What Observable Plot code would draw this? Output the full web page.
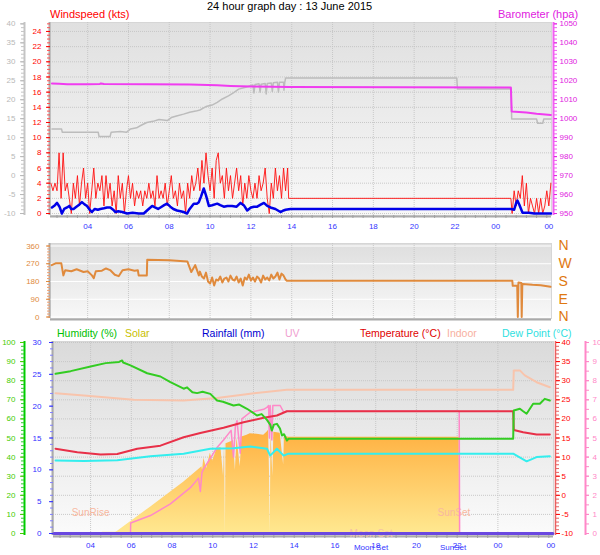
<!DOCTYPE html>
<html><head><meta charset="utf-8">
<script src="https://cdn.jsdelivr.net/npm/d3@7"></script>
<script src="https://cdn.jsdelivr.net/npm/@observablehq/plot@0.6"></script>
<style>
body{margin:0;background:#fff;font-family:"Liberation Sans",Arial,Helvetica,sans-serif;}
#wrap{position:relative;width:600px;height:555px;overflow:hidden;background:#fff;}
.lbl{position:absolute;white-space:nowrap;line-height:1;}
</style></head><body><div id="wrap"></div><script>
// ---------- shared x (hours since midnight 13 June; 24 = 00 on 14 June) ----------
const xDomain = [2.18, 26.73];
const xTickHours = [4,6,8,10,12,14,16,18,20,22,24,26.6];
const xTickLabels = ["04","06","08","10","12","14","16","18","20","22","00","00"];
const gridHours = [4,6,8,10,12,14,16,18,20,22,24];

// ---------- top panel: wind (kts), gray series (left grey axis), barometer (hpa) ----------
const windTicks = [0,2,4,6,8,10,12,14,16,18,20,22,24];
const grayTicks = [-10,-5,0,5,10,15,20,25,30,35,40];
const baroTicks = [950,960,970,980,990,1000,1010,1020,1030,1040,1050];

const gustStart = 2.2, gustStep = 0.1; // 6-minute samples
const windGust = [4,3,4,3,8,2,8,3,4,2,0,4,2,5,1,4,6,2,4,0,3,6,2,4,3,5,1,5,2,4,1,3,0,5,2,4,0,3,5,2,4,1,3,2,3,1,3,2,4,2,3,1,5,2,3,2,4,1,3,5,2,3,1,4,2,3,0,4,2,5,3,4,6,3,7,4,8,5,3,6,2,7,8,4,5,2,6,3,5,2,4,6,3,5,1,4,2,5,3,2,4,2,5,3,4,6,2,0,4,2,6,3,5,2,6,3,6];
const windGustFlat = [[13.85,2],[24.74,2]];
const gustEndStart = 24.8;
const windGustEnd = [0,3,1,3,2,5,1,4,0,2,1,0,2,0,2,0,1,3,1,4];

const windAvg = [[2.25,0.8],[2.4,1.1],[2.5,1.4],[2.62,0.9],[2.74,0],[2.85,0.6],[2.99,0.8],[3.1,1.0],[3.2,0.6],[3.31,0.6],[3.45,0.9],[3.6,1.2],[3.72,1.5],[3.85,1.2],[3.97,1.0],[4.1,0.5],[4.21,0.2],[4.35,0.6],[4.5,0.5],[4.62,0.6],[4.8,0.7],[4.95,0.8],[5.11,0.8],[5.25,0.5],[5.36,0.2],[5.5,0.3],[5.7,0.2],[5.93,0],[6.2,0.1],[6.5,0],[6.75,0],[6.95,0.5],[7.16,1.0],[7.3,0.8],[7.45,0.6],[7.57,0.8],[7.75,1.1],[7.89,1.3],[8.05,0.9],[8.2,0.6],[8.38,0.4],[8.55,0.3],[8.7,0.2],[8.87,0],[9.0,0.6],[9.2,1.3],[9.35,1.3],[9.45,1.5],[9.55,2.2],[9.69,3.3],[9.8,2.4],[9.94,1.0],[10.1,1.1],[10.35,1.3],[10.5,1.1],[10.67,0.9],[10.85,1.0],[11.08,1.0],[11.3,0.9],[11.49,1.4],[11.65,1.1],[11.82,0.4],[12.0,0.8],[12.15,0.9],[12.31,0.9],[12.5,1.2],[12.64,1.4],[12.8,1.0],[12.96,0.8],[13.2,0.6],[13.45,0.2],[13.6,0.4],[13.7,0.5],[13.94,0.6],[24.74,0.6],[24.9,0.5],[25.0,1.4],[25.06,1.7],[25.15,1.2],[25.31,0.1],[25.5,0.1],[25.63,0.1],[25.88,0],[26.7,0]];

const grayLine = [[2.25,12.3],[2.72,12.3],[2.76,11.4],[4.52,11.4],[4.56,10.3],[5.1,10.3],[5.15,11.4],[5.6,11.6],[5.9,11.4],[6.1,12.3],[6.4,12.6],[6.6,13.2],[6.9,14.0],[7.2,14.3],[7.5,14.8],[7.9,14.5],[8.1,15.3],[8.4,15.8],[8.7,16.2],[9.0,16.7],[9.3,17.0],[9.5,17.3],[9.8,18.2],[10.1,18.6],[10.35,19.3],[10.6,20.2],[10.9,21.0],[11.16,21.9],[11.4,22.8],[11.7,23.2],[11.98,23.7],[12.1,23.9],[12.15,21.8],[12.2,24.0],[12.4,24.2],[12.45,22.0],[12.5,24.1],[12.7,24.3],[12.75,21.5],[12.8,24.3],[13.0,24.4],[13.05,22.2],[13.1,24.5],[13.3,24.6],[13.35,22.0],[13.4,24.6],[13.6,24.6],[13.62,22.5],[13.66,24.6],[13.7,25.7],[22.09,25.7],[22.12,22.8],[24.74,22.8],[24.78,14.9],[26.0,14.9],[26.05,13.8],[26.3,13.8],[26.35,14.9],[26.7,14.9]];

const baro = [[2.25,1018.6],[2.6,1018.4],[3.0,1018.2],[4.0,1018.2],[4.6,1018.3],[4.65,1018.6],[4.8,1018.3],[7.0,1018.1],[9.0,1018.0],[10.35,1017.6],[11.0,1017.3],[12.0,1017.0],[13.9,1016.7],[24.74,1016.4],[24.78,1003.8],[25.5,1003.3],[26.0,1002.6],[26.7,1002.0]];

// ---------- middle panel: wind direction (deg) ----------
const dirTicks = [0,90,180,270,360];
const dirLetters = ["N","E","S","W","N"];
const windDirA = [[2.24,263],[2.43,272],[2.71,272],[2.81,211],[2.9,237],[3.2,232],[3.46,242],[3.8,228],[4.0,232],[4.21,211],[4.3,197],[4.4,232],[4.7,235],[4.9,246],[5.1,238],[5.33,214],[5.52,207],[5.71,237],[6.0,242],[6.3,235],[6.46,237],[6.5,211],[6.9,211],[6.92,290],[8.0,288],[8.89,281],[9.08,228],[9.27,263],[9.45,211]];
const dirNoiseStart = 9.5, dirNoiseStep = 0.1;
const windDirNoise = [230,205,195,225,180,170,200,160,190,185,205,175,195,200,180,210,190,185,205,175,195,160,200,190,215,185,200,180,205,195,175,210,190,200,185,215,195,205,225,190,220,210,190];
const windDirB = [[13.76,184],[24.81,184],[24.83,158],[25.05,158],[25.08,0],[25.11,175],[25.25,172],[25.27,0],[25.3,167],[25.8,163],[26.2,161],[26.68,153]];

// ---------- bottom panel ----------
const humTicks = [0,10,20,30,40,50,60,70,80,90,100];
const rainTicks = [0,5,10,15,20,25,30];
const tempTicks = [-10,-5,0,5,10,15,20,25,30,35,40];
const uvTicks = [0,1,2,3,4,5,6,7,8,9,10];

const humidity = [[2.28,83.6],[3.02,85],[4.0,87.4],[4.74,89.2],[5.4,89.8],[5.55,90.6],[5.6,89.5],[5.96,88],[6.78,83.9],[7.43,82.2],[7.92,79.2],[8.57,75.8],[8.74,76.5],[9.0,74],[9.23,73.5],[9.5,74.2],[9.88,73.1],[10.21,69.6],[10.5,69],[11.02,67],[11.3,67.5],[11.68,65.3],[12.17,61.8],[12.4,62.5],[12.66,59.5],[12.82,57],[12.9,53.9],[13.0,57],[13.15,57.4],[13.3,55],[13.4,51.3],[13.5,52],[13.64,48.7],[13.72,49.6],[24.75,49.6],[24.78,64.4],[25.08,65.3],[25.24,64],[25.41,62.7],[25.73,67.9],[26.06,67.9],[26.3,70.5],[26.55,69.6]];
const temperature = [[2.28,12.2],[3.35,11.3],[4.49,10.7],[5.31,10.8],[6.29,12.2],[7.43,13.0],[8.57,15.2],[9.39,16.3],[10.53,17.7],[11.51,19.1],[12.5,20.3],[13.15,20.9],[13.64,22.0],[24.75,22.0],[24.78,17.1],[25.24,16.5],[25.9,15.9],[26.55,15.9]];
const indoor = [[2.28,26.7],[3.67,26.1],[6.12,25.0],[8.57,24.8],[10.21,25.5],[11.84,26.6],[13.64,27.6],[24.75,27.6],[24.78,32.7],[25.08,32.7],[25.32,31.4],[25.9,29.6],[26.55,28.3]];
const dewPoint = [[2.28,9.1],[3.67,9.0],[5.31,9.2],[6.94,10.2],[8.57,10.9],[9.88,12.2],[11.02,12.3],[11.84,12.8],[12.66,12.2],[12.82,10.4],[13.15,12.2],[13.48,10.4],[13.72,10.9],[24.75,10.9],[25.41,8.9],[25.9,10],[26.55,10.2]];
const uv = [[2.2,0],[5.96,0],[5.97,0.55],[6.94,0.94],[7.92,1.55],[8.9,2.4],[9.3,2.9],[9.39,2.2],[9.47,3.2],[9.56,3.4],[10.21,4.5],[10.53,4.9],[10.9,5.4],[11.02,4.0],[11.11,5.6],[11.19,5.9],[11.35,4.2],[11.43,6.0],[11.84,6.35],[12.5,6.5],[12.66,6.6],[12.74,6.7],[12.78,5.0],[12.82,6.7],[12.9,4.9],[12.95,6.7],[13.31,6.7],[13.48,6.35],[13.64,6.4],[22.1,6.4],[22.12,0],[26.7,0]];
const solar = [[2.2,0],[4.57,0],[4.58,7],[5.23,7],[5.31,10],[6.94,138],[8.57,269],[9.47,349],[9.5,330],[9.56,395],[9.7,340],[9.88,420],[10.0,380],[10.21,445],[10.4,450],[10.53,300],[10.58,470],[10.62,0],[10.65,470],[10.9,480],[11.02,487],[11.11,330],[11.19,500],[11.35,350],[11.43,505],[11.68,515],[11.84,522],[12.17,520],[12.5,515],[12.66,530],[12.74,540],[12.79,300],[12.82,0],[12.86,520],[12.95,300],[13.0,530],[13.31,525],[13.48,360],[13.52,510],[13.72,504],[22.1,504],[22.12,0],[26.7,0]];
const rainfall = [[2.2,0],[26.7,0]];
const sunEvents = [{h:4.0, label:"SunRise"},{h:21.84, label:"SunSet"}];
const moonEvents = [{h:17.77, label:"Moon Set"}];
const axisEvents = [{h:17.77, label:"Moon Set"},{h:21.8, label:"SunSet"}];

// ---------- helpers ----------
const FONT = '"Liberation Sans", Arial, Helvetica, sans-serif';
const wrap = document.getElementById("wrap");
const xLabel = new Map(xTickHours.map((h,i)=>[h, xTickLabels[i]]));
const none = () => "";
function place(svg, top){ svg.style.position="absolute"; svg.style.left="0px"; svg.style.top=top+"px"; wrap.appendChild(svg); }
function addGrad(svg, id, c1, c2){
  const ns="http://www.w3.org/2000/svg";
  const defs=document.createElementNS(ns,"defs");
  defs.innerHTML=`<linearGradient id="${id}" x1="0" y1="0" x2="0" y2="1"><stop offset="0" stop-color="${c1}"/><stop offset="1" stop-color="${c2}"/></linearGradient>`;
  svg.insertBefore(defs, svg.firstChild);
}
function label(text,left,top,color,size){
  const d=document.createElement("div"); d.className="lbl"; d.textContent=text;
  d.style.left=left+"px"; d.style.top=top+"px"; d.style.color=color; d.style.fontSize=size+"px"; wrap.appendChild(d);
}
const pts = a => a.map(([h,v])=>({h,v}));
const gridStyle = {stroke:"#c4c4c4", strokeOpacity:0.9, strokeDasharray:"1,1"};
const style = {background:"transparent", fontFamily:FONT, fontSize:"8px", overflow:"visible"};
const ay = o => Plot.axisY({label:null, ...o});
const ax = o => Plot.axisX({label:null, ...o});

// ---------- top panel ----------
const grayToW = v => (v+10)/2;
const baroToW = p => (p-950)/4;
const gustSeries = windGust.map((v,i)=>({h: gustStart+i*gustStep, v}))
  .concat(pts(windGustFlat))
  .concat(windGustEnd.map((v,i)=>({h: gustEndStart+i*gustStep, v})));
const yTop = [-0.26, 25.18];
const topPlot = Plot.plot({
  width:600, height:240, marginTop:22, marginBottom:25, marginLeft:50, marginRight:49,
  x:{domain:xDomain, label:null}, y:{domain:yTop, label:null}, style,
  marks:[
    Plot.frame({fill:"url(#bgTop)", stroke:"#d6d6d6"}),
    Plot.gridY({ticks:windTicks, ...gridStyle}),
    Plot.gridX({ticks:gridHours, ...gridStyle}),
    Plot.ruleX([xDomain[0]], {stroke:"#aaaaaa", strokeWidth:2, dx:-1}),
    Plot.ruleY([yTop[0]], {stroke:"#aaaaaa", strokeWidth:2, dy:1}),
    Plot.line(pts(grayLine), {x:"h", y:d=>grayToW(d.v), stroke:"#bcbcbc", strokeWidth:1.5}),
    Plot.line(pts(baro), {x:"h", y:d=>baroToW(d.v), stroke:"#f03cf0", strokeWidth:2}),
    Plot.line(gustSeries, {x:"h", y:"v", stroke:"#ff1010", strokeWidth:1, strokeOpacity:0.9}),
    Plot.line(pts(windAvg), {x:"h", y:"v", stroke:"#0000e8", strokeWidth:2.5}),
    // wind axis (red)
    ay({ticks:d3.range(0,25.1,0.5), tickSize:3, tickFormat:none, color:"#ff5050"}),
    ay({ticks:windTicks, tickSize:4, tickPadding:5, tickFormat:t=>String(t), color:"#ff0000"}),
    // grey axis
    Plot.ruleX([xDomain[0]], {y1:yTop[0], y2:yTop[1], dx:-26, stroke:"#c4c4c4", strokeWidth:2}),
    ay({ticks:d3.range(-10,40.1,1).map(grayToW), tickSize:3, dx:-26, tickFormat:none, color:"#c4c4c4"}),
    ay({ticks:grayTicks.map(grayToW), tickSize:4, tickPadding:5, dx:-26, tickFormat:t=>String(Math.round(t*2-10)), color:"#b8b8b8"}),
    // barometer axis
    Plot.ruleX([xDomain[1]], {dx:2, stroke:"#f060f0", strokeWidth:2}),
    ay({anchor:"right", ticks:d3.range(950,1050.1,2).map(baroToW), tickSize:3, dx:2, tickFormat:none, color:"#f060f0"}),
    ay({anchor:"right", ticks:baroTicks.map(baroToW), tickSize:3, tickPadding:3, dx:2, tickFormat:t=>String(Math.round(t*4+950)), color:"#e020e0"}),
    // x axis
    ax({ticks:d3.range(2.5,26.6,0.5), tickSize:3, tickFormat:none, color:"#a0a0a0"}),
    ax({ticks:xTickHours, tickSize:0, tickPadding:8, tickFormat:d=>xLabel.get(d), color:"#3535ff"})
  ]
});
addGrad(topPlot, "bgTop", "#e0e0e0", "#f8f8f8");
place(topPlot, 0);

// ---------- middle panel ----------
const dirSeries = pts(windDirA)
  .concat(windDirNoise.map((v,i)=>({h: dirNoiseStart+i*dirNoiseStep, v})))
  .concat(pts(windDirB));
const yMid = [-7.6, 372.7];
const dirLetter = new Map(dirTicks.map((t,i)=>[t, dirLetters[i]]));
const midPlot = Plot.plot({
  width:600, height:86, marginTop:7, marginBottom:4, marginLeft:50, marginRight:49,
  x:{domain:xDomain, axis:null, label:null}, y:{domain:yMid, label:null}, style,
  marks:[
    Plot.frame({fill:"url(#bgMid)", stroke:"#d6d6d6"}),
    Plot.gridY({ticks:dirTicks, stroke:"#ffffff", strokeOpacity:1, strokeWidth:1.2}),
    Plot.gridX({ticks:gridHours, ...gridStyle}),
    Plot.ruleX([xDomain[0]], {stroke:"#aaaaaa", strokeWidth:2, dx:-1}),
    Plot.ruleY([yMid[0]], {stroke:"#aaaaaa", strokeWidth:2, dy:1}),
    Plot.line(dirSeries, {x:"h", y:"v", stroke:"#e08a3c", strokeWidth:2}),
    ay({ticks:d3.range(0,360.1,15), tickSize:3, tickFormat:none, color:"#f0a070"}),
    ay({ticks:dirTicks, tickSize:4, tickPadding:7, tickFormat:t=>String(t), color:"#e08a3c"}),
    ay({anchor:"right", ticks:dirTicks, tickSize:0, tickPadding:7, tickFormat:d=>dirLetter.get(d), color:"#e07810", fontSize:14})
  ]
});
addGrad(midPlot, "bgMid", "#dedede", "#f8f8f8");
place(midPlot, 236);

// ---------- bottom panel (primary y = temperature °C) ----------
const humToT = h => -10 + h/2;
const rainToT = r => -10 + r*50/30;
const uvToT = u => -10 + u*5;
const solarToT = s => -10 + s*50/1000;
const yBot = [-10.52, 40.26];
const botPlot = Plot.plot({
  width:600, height:219, marginTop:5, marginBottom:20, marginLeft:53, marginRight:47,
  x:{domain:xDomain, label:null}, y:{domain:yBot, label:null}, style,
  marks:[
    Plot.frame({fill:"url(#bgBot)", stroke:"#d6d6d6"}),
    Plot.gridY({ticks:tempTicks, ...gridStyle}),
    Plot.gridX({ticks:gridHours, ...gridStyle}),
    Plot.ruleX([xDomain[0]], {stroke:"#aaaaaa", strokeWidth:2, dx:-1}),
    Plot.ruleY([yBot[0]], {stroke:"#aaaaaa", strokeWidth:2, dy:1}),
    Plot.areaY(pts(solar), {x:"h", y1:-10, y2:d=>solarToT(d.v), fill:"url(#solarGrad)"}),
    Plot.text(sunEvents, {x:"h", y:-4.7, text:"label", fill:"#f8b8a0", fontSize:10}),
    Plot.text(moonEvents, {x:"h", y:-10, text:"label", fill:"#f4c0a8", fontSize:10}),
    Plot.line(pts(indoor), {x:"h", y:"v", stroke:"#f8c4ac", strokeWidth:2}),
    Plot.line(pts(uv), {x:"h", y:d=>uvToT(d.v), stroke:"#ff88c8", strokeWidth:1.5}),
    Plot.line(pts(dewPoint), {x:"h", y:"v", stroke:"#33eeee", strokeWidth:2}),
    Plot.line(pts(temperature), {x:"h", y:"v", stroke:"#e83048", strokeWidth:2}),
    Plot.line(pts(humidity), {x:"h", y:d=>humToT(d.v), stroke:"#33cc22", strokeWidth:2}),
    Plot.line(pts(rainfall), {x:"h", y:d=>rainToT(d.v), stroke:"#6a48e0", strokeWidth:3}),
    // humidity axis (green)
    Plot.ruleX([xDomain[0]], {y1:yBot[0], y2:yBot[1], dx:-29, stroke:"#00cc00", strokeWidth:2}),
    ay({ticks:d3.range(0,100.1,2).map(humToT), tickSize:3, dx:-29, tickFormat:none, color:"#33cc33"}),
    ay({ticks:humTicks.map(humToT), tickSize:4, tickPadding:5, dx:-29, tickFormat:t=>String(Math.round((t+10)*2)), color:"#44cc00"}),
    // rainfall axis (blue)
    ay({ticks:d3.range(0,30.1,1).map(rainToT), tickSize:3, tickFormat:none, color:"#8080ff"}),
    ay({ticks:rainTicks.map(rainToT), tickSize:4, tickPadding:8, tickFormat:t=>String(Math.round((t+10)*30/50)), color:"#3030ff"}),
    // temperature axis (red, right)
    Plot.ruleX([xDomain[1]], {dx:2, stroke:"#e86060", strokeWidth:1.5}),
    ay({anchor:"right", ticks:d3.range(-10,40.1,1), tickSize:3, dx:2, tickFormat:none, color:"#e86060"}),
    ay({anchor:"right", ticks:tempTicks, tickSize:4, tickPadding:2, dx:2, tickFormat:t=>String(t), color:"#ff0000"}),
    // UV axis (pink, right)
    Plot.ruleX([xDomain[1]], {y1:yBot[0], y2:yBot[1], dx:32, stroke:"#ff88c8", strokeWidth:2}),
    ay({anchor:"right", ticks:d3.range(0,10.01,0.5).map(uvToT), tickSize:3, dx:32, tickFormat:none, color:"#ff88c8"}),
    ay({anchor:"right", ticks:uvTicks.map(uvToT), tickSize:3, tickPadding:4, dx:32, tickFormat:t=>String(Math.round((t+10)/5)), color:"#ff88c8"}),
    // x axis
    ax({ticks:d3.range(2.5,26.6,0.5), tickSize:3, tickFormat:none, color:"#a0a0a0"}),
    ax({ticks:xTickHours, tickSize:0, tickPadding:7, tickFormat:d=>xLabel.get(d), color:"#3535ff"}),
    Plot.text(axisEvents, {x:"h", y:yBot[0], dy:12, text:"label", fill:"#3535ff", fontSize:8})
  ]
});
addGrad(botPlot, "bgBot", "#dadada", "#fbfbfb");
addGrad(botPlot, "solarGrad", "#ffb040", "#ffe890");
place(botPlot, 336);

// ---------- titles & legends ----------
label("24 hour graph day : 13 June 2015", 207, 1, "#000", 11);
label("Windspeed (kts)", 50, 9, "#ff0000", 11);
label("Barometer (hpa)", 498, 9, "#e020e0", 11);
label("Humidity (%)", 57, 328, "#00c000", 10.5);
label("Solar", 125, 328, "#c8c000", 10.5);
label("Rainfall (mm)", 202, 328, "#0000d0", 10.5);
label("UV", 285, 328, "#f0a0d0", 10.5);
label("Temperature (°C)", 360, 328, "#e00000", 10.5);
label("Indoor", 447, 328, "#f8b0a0", 10.5);
label("Dew Point (°C)", 502, 328, "#30e0e0", 10.5);
</script></body></html>
